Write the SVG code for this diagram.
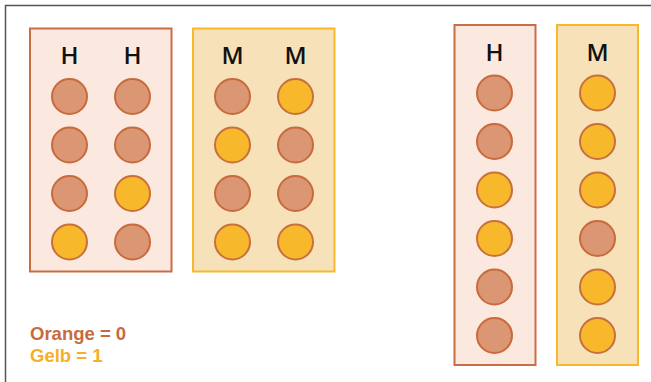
<svg xmlns="http://www.w3.org/2000/svg" width="651" height="382" viewBox="0 0 651 382">
  <style>
    .frame { fill: none; stroke: #555555; stroke-width: 1.5; }
    .box-h { fill: #fbe9df; stroke: #c96d45; stroke-width: 2; }
    .box-m { fill: #f6e1b8; stroke: #f8b82c; stroke-width: 2; }
    .o { fill: #db9673; stroke: #c86a3c; stroke-width: 2; }
    .y { fill: #f8b82c; stroke: #c8703c; stroke-width: 2; }
    .lbl { font-family: "Open Sans", "Liberation Sans", sans-serif; font-size: 24px; font-weight: 600; fill: #111111; text-anchor: middle; }
    .legend { font-family: "Liberation Sans", Arial, sans-serif; font-size: 18.5px; font-weight: 700; }
  </style>
  <defs>
    <circle id="dot" r="17.5"/>
  </defs>

  <!-- page frame: top and left edges only -->
  <path class="frame" d="M651 5.5 H5.5 V382"/>

  <!-- left pair: H H -->
  <g id="box-hh">
    <rect class="box-h" x="30" y="28.5" width="141.5" height="243"/>
    <text class="lbl" x="69.5" y="64">H</text>
    <text class="lbl" x="132.5" y="64">H</text>
    <use href="#dot" class="o" x="69.5" y="96.5"/>
    <use href="#dot" class="o" x="69.5" y="145"/>
    <use href="#dot" class="o" x="69.5" y="193.5"/>
    <use href="#dot" class="y" x="69.5" y="242"/>
    <use href="#dot" class="o" x="132.5" y="96.5"/>
    <use href="#dot" class="o" x="132.5" y="145"/>
    <use href="#dot" class="y" x="132.5" y="193.5"/>
    <use href="#dot" class="o" x="132.5" y="242"/>
  </g>

  <!-- left pair: M M -->
  <g id="box-mm">
    <rect class="box-m" x="193" y="28.5" width="141.5" height="243"/>
    <text class="lbl" x="232.5" y="64">M</text>
    <text class="lbl" x="295.5" y="64">M</text>
    <use href="#dot" class="o" x="232.5" y="96.5"/>
    <use href="#dot" class="y" x="232.5" y="145"/>
    <use href="#dot" class="o" x="232.5" y="193.5"/>
    <use href="#dot" class="y" x="232.5" y="242"/>
    <use href="#dot" class="y" x="295.5" y="96.5"/>
    <use href="#dot" class="o" x="295.5" y="145"/>
    <use href="#dot" class="o" x="295.5" y="193.5"/>
    <use href="#dot" class="y" x="295.5" y="242"/>
  </g>

  <!-- right column: H -->
  <g id="box-h">
    <rect class="box-h" x="454.5" y="25" width="81" height="340"/>
    <text class="lbl" x="494.5" y="61">H</text>
    <use href="#dot" class="o" x="494.5" y="93"/>
    <use href="#dot" class="o" x="494.5" y="141.5"/>
    <use href="#dot" class="y" x="494.5" y="190"/>
    <use href="#dot" class="y" x="494.5" y="238.5"/>
    <use href="#dot" class="o" x="494.5" y="287"/>
    <use href="#dot" class="o" x="494.5" y="335.5"/>
  </g>

  <!-- right column: M -->
  <g id="box-m">
    <rect class="box-m" x="557" y="25" width="81" height="340"/>
    <text class="lbl" x="597.5" y="61">M</text>
    <use href="#dot" class="y" x="597.5" y="93"/>
    <use href="#dot" class="y" x="597.5" y="141.5"/>
    <use href="#dot" class="y" x="597.5" y="190"/>
    <use href="#dot" class="o" x="597.5" y="238.5"/>
    <use href="#dot" class="y" x="597.5" y="287"/>
    <use href="#dot" class="y" x="597.5" y="335.5"/>
  </g>

  <!-- legend -->
  <g id="legend">
    <text class="legend" x="30" y="340" fill="#c96a3e">Orange = 0</text>
    <text class="legend" x="30" y="361.5" fill="#f5b025">Gelb = 1</text>
  </g>
</svg>
